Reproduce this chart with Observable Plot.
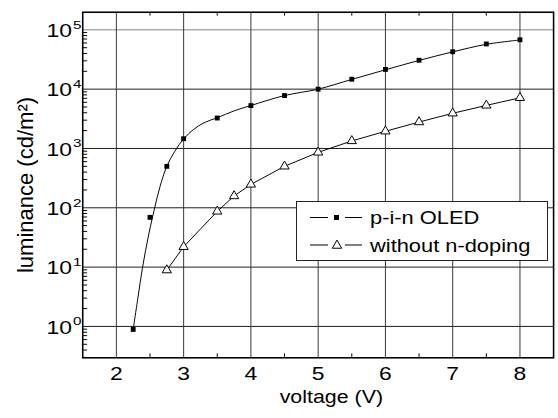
<!DOCTYPE html>
<html><head><meta charset="utf-8">
<script src="https://cdn.jsdelivr.net/npm/d3@7"></script>
<script src="https://cdn.jsdelivr.net/npm/@observablehq/plot@0.6"></script>
<style>
html,body{margin:0;padding:0;background:#fff;overflow:hidden;}
#wrap{position:relative;width:558px;height:418px;overflow:hidden;}
#legend{position:absolute;left:296px;top:201px;}
</style></head><body><div id="wrap"></div>
<script>
// p-i-n OLED measured points
const pinV = [2.25, 2.5, 2.75, 3, 3.5, 4, 4.5, 5, 5.5, 6, 6.5, 7, 7.5, 8];
const pinL = [0.89, 69, 500, 1460, 3260, 5280, 7800, 10000, 14700, 21500, 30700, 42700, 57800, 68000];
// fitted curve through p-i-n data
const fitV = [2.25, 2.32, 2.39, 2.48, 2.57, 2.65, 2.75, 2.87, 3.0, 3.15, 3.3, 3.5, 3.75, 4, 4.5, 5, 5.5, 6, 6.5, 7, 7.5, 8];
const fitL = [0.9, 3, 10, 35, 100, 230, 500, 900, 1450, 2100, 2700, 3300, 4300, 5300, 7800, 10000, 14600, 21200, 30500, 42500, 57000, 67500];
// without n-doping
const undV = [2.75, 3, 3.5, 3.75, 4, 4.5, 5, 5.5, 6, 6.5, 7, 7.5, 8];
const undL = [8.9, 22, 87, 158, 248, 500, 860, 1340, 1950, 2790, 3920, 5320, 7150];

const seriesNames = ["p-i-n OLED", "without n-doping"];
const xTicks = [2, 3, 4, 5, 6, 7, 8];
const xMinor = [2.5, 3.5, 4.5, 5.5, 6.5, 7.5];
const decades = [0, 1, 2, 3, 4, 5];
const xLabel = "voltage (V)";
const yLabel = "luminance (cd/m²)";

const FONT = "'Liberation Sans', Arial, Helvetica, sans-serif";
const W = 570, H = 418, ML = 84, MR = 5, MT = 12, MB = 53;
const innerW = W - ML - MR, innerH = H - MT - MB;

const pin = pinV.map((v, i) => ({v, L: pinL[i]}));
const fit = fitV.map((v, i) => ({v, L: fitL[i]}));
const und = undV.map((v, i) => ({v, L: undL[i]}));
const yMinor = [];
for (let e = -1; e <= 5; e++) for (let m = 2; m <= 9; m++) { const val = m * 10 ** e; if (val >= 0.296 && val <= 1.98e5) yMinor.push(val); }
const decVals = decades.map(e => 10 ** e);

const chart = Plot.plot({
  width: W, height: H,
  marginLeft: ML, marginRight: MR, marginTop: MT, marginBottom: MB,
  style: {fontFamily: FONT, fontSize: "18px", color: "black", background: "white"},
  x: {domain: [1.5, 8.5], axis: null},
  y: {type: "log", domain: [0.296, 1.98e5], axis: null},
  marks: [
    Plot.ruleY(decVals.filter(d => d < 1e5), {stroke: "#1a1a1a", strokeWidth: 1}),
    Plot.ruleY(decVals.filter(d => d >= 1e5), {stroke: "#808080", strokeWidth: 1}),
    Plot.ruleX(xTicks, {stroke: "#333", strokeWidth: 1}),
    Plot.tickX(xMinor, {x: d => d, insetTop: innerH - 4, stroke: "black"}),
    Plot.tickX(xMinor, {x: d => d, insetBottom: innerH - 4, stroke: "black"}),
    Plot.tickY(yMinor, {y: d => d, insetRight: innerW - 5, stroke: "black"}),
    Plot.line(fit, {x: "v", y: "L", curve: "catmull-rom", stroke: "black", strokeWidth: 1}),
    Plot.line(und, {x: "v", y: "L", stroke: "black", strokeWidth: 1}),
    Plot.dot(pin, {x: "v", y: "L", symbol: "square", r: 2.8, fill: "black", stroke: null}),
    Plot.dot(und, {x: "v", y: "L", symbol: "triangle", r: 3.5, fill: "white", stroke: "black", strokeWidth: 1}),
    Plot.frame({stroke: "black", strokeWidth: 1.6}),
    Plot.axisX(xTicks, {anchor: "bottom", tickSize: 0, tickPadding: 10, fontSize: 18, label: null}),
    Plot.text(decVals, {frameAnchor: "left", y: d => d, text: () => "10", textAnchor: "end", lineAnchor: "middle", dx: -11, dy: 1.5, fontSize: 18}),
    Plot.text(decVals, {frameAnchor: "left", y: d => d, text: d => String(Math.round(Math.log10(d))), textAnchor: "start", lineAnchor: "middle", dx: -10, dy: -5, fontSize: 12}),
    Plot.text([xLabel], {frameAnchor: "bottom", text: d => d, textAnchor: "middle", lineAnchor: "middle", dx: 13.5, dy: 40, fontSize: 19}),
    Plot.text([yLabel], {frameAnchor: "left", text: d => d, textAnchor: "middle", lineAnchor: "middle", rotate: -90, dx: -58, fontSize: 22.5})
  ]
});

// horizontal widening of glyphs (the reference figure is widened)
function stretch(el, sx) {
  const t = el.getAttribute("transform");
  if (t) {
    el.setAttribute("transform", t + ` scale(${sx},1)`);
  } else {
    const x = +(el.getAttribute("x") || 0), y = +(el.getAttribute("y") || 0);
    el.setAttribute("transform", `translate(${x},${y}) scale(${sx},1) translate(${-x},${-y})`);
  }
}
d3.select(chart).selectAll("text").each(function () {
  const s = this.textContent;
  if (s === yLabel) return;
  stretch(this, s === xLabel ? 1.15 : 1.3);
});

const wrap = document.getElementById("wrap");
wrap.appendChild(chart);

// legend box inside the plot
const lg = d3.create("svg").attr("id", "legend").attr("width", 253).attr("height", 61)
  .style("font-family", FONT);
lg.append("rect").attr("x", 0.5).attr("y", 0.5).attr("width", 251).attr("height", 59)
  .attr("fill", "white").attr("stroke", "#222").attr("stroke-width", 1);
const rows = [
  {name: seriesNames[0], cy: 16.5, sym: "square"},
  {name: seriesNames[1], cy: 44, sym: "triangle"}
];
rows.forEach(r => {
  lg.append("line").attr("x1", 14).attr("x2", 32).attr("y1", r.cy).attr("y2", r.cy).attr("stroke", "black");
  lg.append("line").attr("x1", 49).attr("x2", 66).attr("y1", r.cy).attr("y2", r.cy).attr("stroke", "black");
  if (r.sym === "square") {
    lg.append("rect").attr("x", 38).attr("y", r.cy - 2.5).attr("width", 5).attr("height", 5).attr("fill", "black");
  } else {
    lg.append("path").attr("d", d3.symbol(d3.symbolTriangle, Math.PI * 3.5 * 3.5)()).attr("transform", `translate(41,${r.cy + 0.5})`)
      .attr("fill", "white").attr("stroke", "black");
  }
  lg.append("text").attr("transform", `translate(74,${r.cy + 6.5}) scale(1.15,1)`).attr("font-size", 19).text(r.name);
});
wrap.appendChild(lg.node());
</script></body></html>
